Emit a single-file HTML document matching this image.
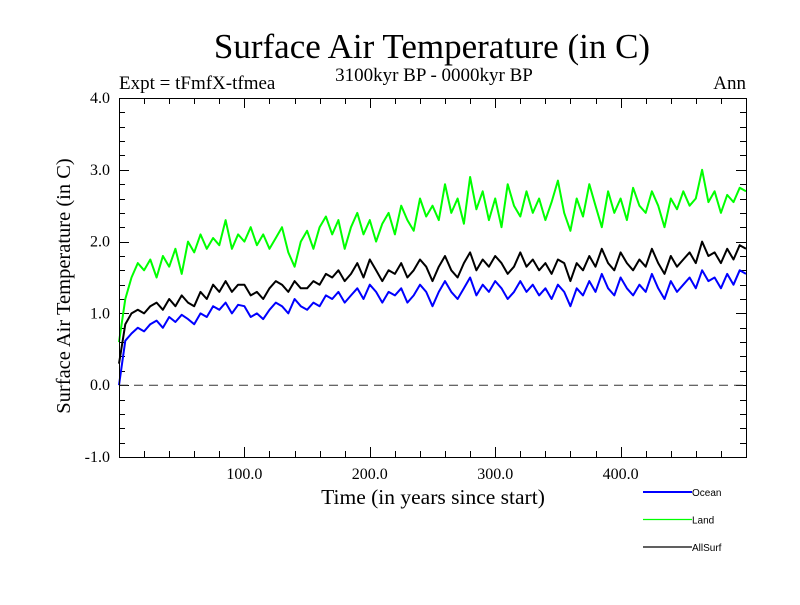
<!DOCTYPE html>
<html><head><meta charset="utf-8"><style>
body{margin:0;background:#fff}
svg text{font-family:"Liberation Serif",serif;fill:#000}
</style></head><body>
<svg id="chart" width="800" height="600" xmlns="http://www.w3.org/2000/svg">
<text x="432" y="58" font-size="35" text-anchor="middle">Surface Air Temperature (in C)</text>
<text x="434" y="81" font-size="19" text-anchor="middle">3100kyr BP - 0000kyr BP</text>
<text x="119" y="89" font-size="19">Expt = tFmfX-tfmea</text>
<text x="746" y="89" font-size="19" text-anchor="end">Ann</text>
<g id="axes"></g>
<g id="series"></g>
<rect x="119.5" y="98.5" width="627" height="359" fill="none" stroke="#000" stroke-width="1"/>
<text x="433" y="504" font-size="21.5" text-anchor="middle">Time (in years since start)</text>
<text transform="translate(70,286) rotate(-90)" font-size="20.5" text-anchor="middle">Surface Air Temperature (in C)</text>
<g id="legend"></g>
</svg>
<script>
const years=[];for(let i=0;i<=100;i++)years.push(i*5);
const ocean=[0.0,0.62,0.72,0.8,0.75,0.85,0.9,0.8,0.95,0.88,0.98,0.92,0.85,1.0,0.95,1.1,1.05,1.15,1.0,1.12,1.1,0.95,1.0,0.92,1.05,1.15,1.1,1.0,1.2,1.1,1.05,1.15,1.1,1.25,1.2,1.3,1.15,1.25,1.35,1.2,1.4,1.3,1.15,1.3,1.25,1.35,1.15,1.25,1.4,1.3,1.1,1.3,1.45,1.3,1.2,1.35,1.5,1.25,1.4,1.3,1.45,1.35,1.2,1.3,1.45,1.3,1.4,1.25,1.35,1.2,1.4,1.3,1.1,1.35,1.25,1.45,1.3,1.55,1.35,1.25,1.5,1.35,1.25,1.4,1.3,1.55,1.35,1.2,1.45,1.3,1.4,1.5,1.35,1.6,1.45,1.5,1.35,1.55,1.4,1.6,1.55];
const land=[0.6,1.2,1.5,1.7,1.6,1.75,1.5,1.8,1.65,1.9,1.55,2.0,1.85,2.1,1.9,2.05,1.95,2.3,1.9,2.1,2.0,2.2,1.95,2.1,1.9,2.05,2.2,1.85,1.65,2.0,2.15,1.9,2.2,2.35,2.1,2.3,1.9,2.2,2.4,2.1,2.3,2.0,2.25,2.4,2.1,2.5,2.3,2.15,2.6,2.35,2.5,2.3,2.8,2.4,2.6,2.25,2.9,2.45,2.7,2.3,2.6,2.2,2.8,2.5,2.35,2.7,2.4,2.6,2.3,2.55,2.85,2.4,2.15,2.6,2.35,2.8,2.5,2.2,2.7,2.4,2.6,2.3,2.75,2.5,2.4,2.7,2.5,2.2,2.6,2.45,2.7,2.5,2.6,3.0,2.55,2.7,2.4,2.65,2.55,2.75,2.7];
const allsurf=[0.3,0.85,1.0,1.05,1.0,1.1,1.15,1.05,1.2,1.1,1.25,1.15,1.1,1.3,1.2,1.4,1.3,1.45,1.3,1.4,1.4,1.25,1.3,1.2,1.35,1.45,1.4,1.3,1.45,1.35,1.35,1.45,1.4,1.55,1.5,1.6,1.45,1.55,1.7,1.5,1.75,1.6,1.45,1.6,1.55,1.7,1.5,1.6,1.75,1.65,1.45,1.65,1.8,1.6,1.5,1.7,1.85,1.6,1.75,1.65,1.8,1.7,1.55,1.65,1.85,1.65,1.75,1.6,1.7,1.55,1.75,1.7,1.45,1.7,1.6,1.8,1.65,1.9,1.7,1.6,1.85,1.7,1.6,1.75,1.65,1.9,1.7,1.55,1.8,1.65,1.75,1.85,1.7,2.0,1.8,1.85,1.7,1.9,1.75,1.95,1.9];
const yTickLabels=["4.0","3.0","2.0","1.0","0.0","-1.0"];
const yTickValues=[4,3,2,1,0,-1];
const xTickLabels=["100.0","200.0","300.0","400.0"];
const xTickValues=[100,200,300,400];
const seriesNames=["Ocean","Land","AllSurf"];
const NS="http://www.w3.org/2000/svg";
const X0=119,X1=746,Y0=98,Y1=457;
function sx(v){return X0+(v-0)/(500-0)*(X1-X0);}
function sy(v){return Y1-(v-(-1))/(4-(-1))*(Y1-Y0);}
function mk(t,a,p){const e=document.createElementNS(NS,t);for(const k in a)e.setAttribute(k,a[k]);p.appendChild(e);return e;}
const axes=document.getElementById('axes');
for(let i=0;i<=25;i++){const v=-1+i*0.2;const y=Math.round(sy(v))+0.5;const major=i%5==0;const L=major?10:6;
 let t=mk('line',{x1:X0,x2:X0+L,y1:y,y2:y,stroke:'#000'},axes);
 t=mk('line',{x1:X1-L,x2:X1,y1:y,y2:y,stroke:'#000'},axes);}
for(let i=0;i<=25;i++){const v=i*20;const x=Math.round(sx(v))+0.5;const major=i%5==0;const L=major?10:6;
 let t=mk('line',{x1:x,x2:x,y1:Y1,y2:Y1-L,stroke:'#000'},axes);
 t=mk('line',{x1:x,x2:x,y1:Y0,y2:Y0+L,stroke:'#000'},axes);}
yTickLabels.forEach((s,i)=>{const t=mk('text',{x:110,y:sy(yTickValues[i])+5,'font-size':16,'text-anchor':'end'},axes);t.textContent=s;
 });
xTickLabels.forEach((s,i)=>{const t=mk('text',{x:sx(xTickValues[i]),y:479,'font-size':16,'text-anchor':'middle'},axes);t.textContent=s;
 });
const zl=mk('line',{x1:X0,x2:X1,y1:sy(0),y2:sy(0),stroke:'#333','stroke-dasharray':'9,6'},axes);

const sg=document.getElementById('series');
const cols=['#0000ff','#00ff00','#000000'];
[ocean,land,allsurf].forEach((d,k)=>{const p=d.map((v,i)=>(i?'L':'M')+sx(years[i]).toFixed(1)+','+sy(v).toFixed(1)).join('');
 const e=mk('path',{d:p,fill:'none',stroke:cols[k],'stroke-width':2,'stroke-linejoin':'round'},sg);
 });
const lg=document.getElementById('legend');
seriesNames.forEach((n,k)=>{const y=492+k*27.5;
 const l=mk('line',{x1:643,x2:692,y1:y,y2:y,stroke:cols[k],'stroke-width':k==0?2:1.3},lg);
 
 const t=mk('text',{x:692,y:y+4,'font-size':10,style:'font-family:"Liberation Sans",sans-serif'},lg);t.textContent=n;
 });
</script>
</body></html>
